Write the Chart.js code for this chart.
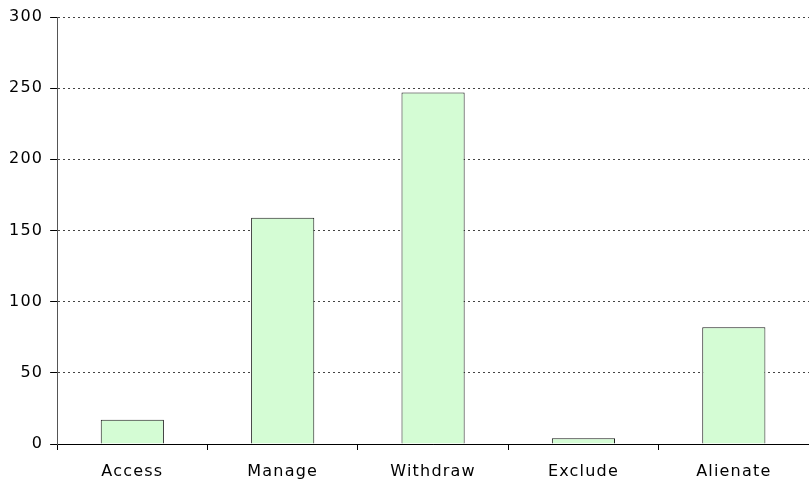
<!DOCTYPE html>
<html>
<head>
<meta charset="utf-8">
<script src="https://cdn.jsdelivr.net/npm/chart.js@4/dist/chart.umd.min.js"></script>
<style>
  html, body { margin: 0; padding: 0; background: #fff; }
  #wrap { width: 809px; height: 483px; }
</style>
</head>
<body>
<div id="wrap"><canvas id="barChart"></canvas></div>
<script>
const categorias = ["Access", "Manage", "Withdraw", "Exclude", "Alienate"];
const valores = [17, 159, 247, 4, 82];
const yTicks = [0, 50, 100, 150, 200, 250, 300];

Chart.defaults.font.family = "'DejaVu Sans', Verdana, sans-serif";
Chart.defaults.font.size = 16;
Chart.defaults.font.lineHeight = 1;
Chart.defaults.color = "#000";

// espaçamento das letras, como no original
const espacamento = {
    id: "espacamento",
    beforeUpdate: c => { c.ctx.letterSpacing = "1.2px"; },
    beforeLayout: c => { c.ctx.letterSpacing = "1.2px"; },
    beforeDraw: c => { c.ctx.letterSpacing = "1.2px"; }
};

const ctx = document.getElementById("barChart").getContext("2d");
const chart = new Chart(ctx, {
    type: "bar",
    plugins: [espacamento],
    data: {
        labels: categorias,
        datasets: [{
            data: valores,
            backgroundColor: "#d4fcd4",
            borderColor: "#1a1a1a",
            borderWidth: 1,
            categoryPercentage: 1,
            barPercentage: 0.42
        }]
    },
    options: {
        responsive: true,
        maintainAspectRatio: false,
        animation: false,
        layout: { padding: { top: 17, right: 0, bottom: 0, left: 2 } },
        plugins: {
            legend: { display: false },
            tooltip: { enabled: false }
        },
        scales: {
            x: {
                offset: true,
                afterFit: s => { s.height = 39; },
                grid: { offset: true, drawOnChartArea: false, drawTicks: true, tickLength: 6, color: "#000" },
                border: { color: "#000", width: 1 },
                ticks: { padding: 14 }
            },
            y: {
                min: 0,
                max: 300,
                afterBuildTicks: axis => { axis.ticks = yTicks.map(v => ({ value: v })); },
                grid: {
                    color: "#444",
                    tickColor: "#000",
                    tickLength: 7,
                    tickBorderDash: [],
                    drawTicks: true
                },
                border: { display: true, color: "#555", width: 1, dash: [2, 3] },
                ticks: { padding: 7 }
            }
        }
    }
});
</script>
</body>
</html>
